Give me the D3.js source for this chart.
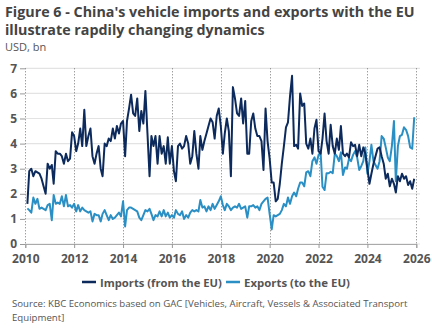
<!DOCTYPE html>
<html>
<head>
<meta charset="utf-8">
<script src="https://cdn.jsdelivr.net/npm/d3@7"></script>
<style>
  body { margin: 0; background: #fff; }
  svg { display: block; font-family: "Open Sans", "Noto Sans", sans-serif; }
</style>
</head>
<body>
<div id="chart"></div>
<script>
// monthly series, first month = Feb 2010
const startMonth = new Date(2010, 1, 1);

const importsEU = [
  1.6, 2.9, 3.0, 2.7, 2.9, 2.85, 2.8, 2.6, 2.3, 2.0, 3.2,
  3.0, 3.15, 2.4, 3.7, 3.6, 3.6, 3.5, 3.2, 3.6, 3.3, 3.4, 4.45,
  4.3, 3.7, 4.0, 4.6, 3.9, 5.35, 3.9, 4.3, 4.6, 3.5, 3.2, 3.6,
  3.9, 3.0, 2.7, 4.0, 3.9, 4.2, 4.1, 4.6, 4.2, 4.7, 4.4, 4.8,
  4.9, 3.5, 4.9, 5.4, 5.95, 5.2, 5.1, 5.8, 4.5, 5.3, 4.8, 6.1,
  4.4, 2.7, 4.3, 3.9, 4.3, 3.2, 4.3, 3.6, 3.9, 3.2, 4.25, 3.2,
  3.9, 2.9, 2.5, 3.9, 4.0, 3.8, 3.9, 4.3, 4.0, 3.2, 3.5, 4.5,
  3.6, 3.0, 4.3, 3.75, 4.1, 4.4, 4.7, 5.0, 4.85, 4.2, 5.1, 5.4,
  4.7, 3.6, 4.4, 5.0, 4.5, 2.7, 6.25, 5.8, 5.2, 5.1, 5.8, 4.8,
  5.7, 3.6, 3.6, 4.9, 5.2, 4.6, 4.3, 4.3, 4.1, 2.95, 5.4, 4.1,
  3.4, 2.45, 2.45, 1.7, 1.8, 2.4, 3.2, 3.9, 4.65, 4.85, 5.9, 6.7,
  3.9, 3.95, 3.8, 6.0, 5.5, 5.6, 4.0, 3.8, 4.2, 3.6, 4.6, 4.95,
  3.7, 3.6, 4.2, 5.2, 4.1, 3.6, 4.75, 3.9, 3.6, 4.2, 3.75, 4.7,
  3.6, 3.5, 3.6, 3.45, 4.05, 3.9, 3.95, 3.5, 3.95, 3.5, 3.85, 3.6,
  3.0, 2.4, 2.8, 3.2, 3.5, 3.8, 3.85, 3.5, 3.2, 2.6, 2.8, 2.3,
  2.6, 2.4, 2.05, 2.7, 2.5, 2.8, 2.6, 2.7, 2.35, 2.5, 2.2, 2.6
];

const exportsEU = [
  1.42, 1.35, 1.25, 1.85, 1.6, 1.8, 1.4, 1.45, 1.4, 1.35, 1.55,
  1.6, 0.95, 1.95, 1.6, 1.65, 1.6, 1.9, 1.5, 1.95, 1.5, 1.55, 1.45,
  1.6, 1.3, 1.55, 1.3, 1.45, 1.35, 1.3, 1.25, 1.3, 0.9, 1.2, 1.15,
  1.15, 0.9, 1.2, 1.35, 1.15, 0.95, 1.15, 1.0, 1.05, 1.15, 1.25, 1.1,
  1.7, 0.7, 1.35, 1.45, 1.45, 1.4, 1.35, 1.3, 1.05, 0.95, 1.15, 1.35,
  1.3, 1.4, 1.2, 0.95, 1.15, 1.1, 1.3, 1.1, 1.35, 1.1, 1.25, 1.05,
  1.15, 1.05, 1.35, 1.2, 1.15, 1.3, 1.0, 1.15, 1.05, 1.25, 1.35, 1.3,
  1.35, 1.3, 1.75, 1.45, 1.5, 1.3, 1.5, 1.35, 1.6, 1.4, 1.55, 1.7,
  1.9, 1.55, 1.35, 1.6, 1.5, 1.35, 1.45, 1.5, 1.45, 1.6, 1.4, 1.45,
  1.5, 1.05, 1.5, 1.5, 1.55, 1.45, 1.5, 1.35, 1.6, 1.7, 1.8, 1.85,
  1.2, 0.58, 1.15, 1.1, 1.15, 1.2, 1.35, 1.6, 1.5, 1.85, 1.6, 1.9,
  2.05, 1.9, 2.2, 2.45, 2.45, 2.3, 2.85, 2.9, 2.7, 3.3, 3.45, 3.2,
  3.55, 3.65, 2.28, 2.15, 2.82, 2.82, 2.88, 2.82, 3.6, 3.5, 3.3, 3.65,
  2.75, 3.05, 3.0, 3.4, 3.3, 3.55, 3.7, 3.45, 2.95, 3.1, 3.3, 3.85,
  2.8, 3.3, 3.95, 3.3, 3.15, 3.0, 3.3, 4.3, 4.2, 3.85, 3.45, 3.3,
  3.9, 4.9, 2.5, 3.9, 4.3, 4.35, 4.65, 4.55, 4.3, 3.85, 3.8, 5.05
];

const yTicks = [0, 1, 2, 3, 4, 5, 6, 7];
const xTickYears = [2010, 2012, 2014, 2016, 2018, 2020, 2022, 2024, 2026];
const seriesNames = ["Imports (from the EU)", "Exports (to the EU)"];

//colours
const navy = "#0c2a5b";
const blue = "#2a8fc4";
const textGrey = "#555555";
const gridGrey = "#e3e3e3";

const W = 432, H = 334;
const svg = d3.select("#chart").append("svg")
  .attr("width", W)
  .attr("height", H);

const x = d3.scaleTime()
  .domain([new Date(2010, 0, 1), new Date(2026, 0, 1)])
  .range([25.3, 416.3]);
const y = d3.scaleLinear()
  .domain([0, 7])
  .range([244, 68.3]);

// shrink a text's font until it spans the given width
function fitWidth(sel, size, width) {
  sel.attr("font-size", size);
  const s = size * width / sel.node().getComputedTextLength();
  sel.attr("font-size", s);
  return s;
}

// title
const title = svg.append("g").attr("fill", "#444").attr("font-weight", "bold");
const t1 = title.append("text").attr("x", 5).attr("y", 17)
  .text("Figure 6 - China's vehicle imports and exports with the EU");
const fitSize = fitWidth(t1, 15, 410);
title.append("text").attr("x", 5).attr("y", 35)
  .attr("font-size", fitSize)
  .text("illustrate rapdily changing dynamics");

svg.append("text").attr("x", 5).attr("y", 51)
  .attr("font-size", 11).attr("fill", textGrey)
  .text("USD, bn");

// horizontal grid
svg.append("g").selectAll("line")
  .data(yTicks)
  .enter().append("line")
    .attr("x1", 25).attr("x2", 420)
    .attr("y1", d => y(d)).attr("y2", d => y(d))
    .attr("stroke", gridGrey)
    .attr("stroke-width", 1.2);

// dotted year lines
svg.append("g").selectAll("line")
  .data(xTickYears)
  .enter().append("line")
    .attr("x1", d => Math.round(x(new Date(d, 0, 1))) + 0.5)
    .attr("x2", d => Math.round(x(new Date(d, 0, 1))) + 0.5)
    .attr("y1", y(7)).attr("y2", y(0))
    .attr("stroke", "#777")
    .attr("stroke-dasharray", "1,2");

// y axis
const yAxis = svg.append("g")
  .attr("transform", "translate(25,0)")
  .call(d3.axisLeft(y).tickValues(yTicks).tickSize(5).tickPadding(3).tickFormat(d3.format("d")));
yAxis.select(".domain").remove();
yAxis.selectAll(".tick line").attr("stroke", "#999");
yAxis.selectAll("text")
  .attr("font-size", 12).attr("font-weight", "bold")
  .attr("fill", textGrey).attr("font-family", "Open Sans, sans-serif");

// x axis
const xAxis = svg.append("g")
  .attr("transform", "translate(0,244)")
  .call(d3.axisBottom(x)
    .tickValues(xTickYears.map(d => new Date(d, 0, 1)))
    .tickSize(4).tickPadding(6)
    .tickFormat(d3.timeFormat("%Y")));
xAxis.select(".domain").attr("stroke", "#aaa");
xAxis.selectAll(".tick line").attr("stroke", "#999");
xAxis.selectAll("text")
  .attr("font-size", 12).attr("font-weight", "bold")
  .attr("fill", textGrey).attr("font-family", "Open Sans, sans-serif");

// lines
const dateAt = i => d3.timeMonth.offset(startMonth, i);
const line = d3.line()
  .x((d, i) => x(dateAt(i)))
  .y(d => y(d))
  .curve(d3.curveLinear);

svg.append("path")
  .datum(exportsEU)
  .attr("d", line)
  .attr("fill", "none")
  .attr("stroke", blue)
  .attr("stroke-width", 2)
  .attr("stroke-linejoin", "round");

svg.append("path")
  .datum(importsEU)
  .attr("d", line)
  .attr("fill", "none")
  .attr("stroke", navy)
  .attr("stroke-width", 2)
  .attr("stroke-linejoin", "round");

// legend
const legend = svg.append("g").attr("font-weight", "bold").attr("fill", textGrey);
const legendWidths = [122, 106];
let lx = 82;
[navy, blue].forEach((c, i) => {
  legend.append("line")
    .attr("x1", lx).attr("x2", lx + 14)
    .attr("y1", 282).attr("y2", 282)
    .attr("stroke", c).attr("stroke-width", 2.5);
  const t = legend.append("text")
    .attr("x", lx + 18).attr("y", 286.5)
    .text(seriesNames[i]);
  fitWidth(t, 12.5, legendWidths[i]);
  lx += 18 + legendWidths[i] + 4;
});

// source
const src = svg.append("g").attr("fill", textGrey);
const s1 = src.append("text").attr("x", 12).attr("y", 307)
  .text("Source: KBC Economics based on GAC [Vehicles, Aircraft, Vessels & Associated Transport");
const srcSize = fitWidth(s1, 10.5, 396);
src.append("text").attr("x", 12).attr("y", 321)
  .attr("font-size", srcSize)
  .text("Equipment]");
</script>
</body>
</html>
